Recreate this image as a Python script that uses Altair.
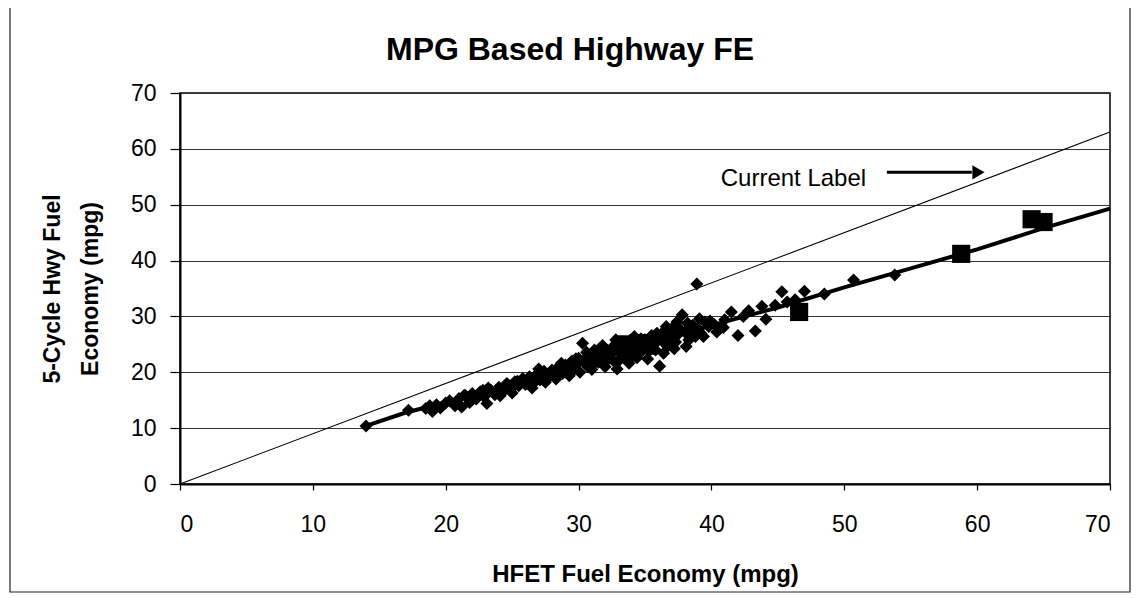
import altair as alt
import pandas as pd

# ---------------- data ----------------
diamond_x = [14.0, 17.2, 18.5, 18.8, 19.0, 19.3, 19.6, 20.0, 20.3, 20.7, 21.0, 21.2, 21.5, 21.8,
             22.0, 22.3, 22.6, 22.9, 23.1, 23.4, 23.2, 23.7, 24.0, 24.3, 24.6, 24.9, 25.2, 25.5,
             25.8, 26.0, 26.3, 26.6, 26.9, 27.1, 27.4, 27.7, 28.0, 28.2, 28.5, 28.8, 29.0, 29.2,
             29.5, 29.7, 29.9, 30.1, 30.3, 30.5, 30.7, 30.9, 31.1, 31.3, 31.5, 31.7, 31.9, 32.1,
             32.3, 32.5, 32.7, 32.9, 33.1, 33.3, 33.5, 33.7, 33.9, 34.1, 34.3, 34.5, 34.7, 34.9,
             35.1, 35.3, 35.5, 35.7, 35.9, 36.1, 36.3, 36.5, 36.7, 36.9, 37.1, 37.3, 37.5, 37.8,
             38.0, 38.3, 38.6, 38.9, 39.2, 39.5, 39.8, 40.2, 40.6, 41.0, 41.5, 42.0, 42.4, 42.8,
             43.3, 43.8, 44.1, 44.8, 45.3, 45.7, 46.3, 47.0, 48.5, 50.7, 53.8,
             30.0, 31.0, 31.6, 32.0, 32.6, 33.0, 33.4, 33.8, 34.0, 34.4, 34.8, 35.2, 35.6, 36.0,
             36.4, 36.8, 37.2, 37.6, 38.1, 38.4, 38.8, 39.1, 39.4, 39.9, 40.4, 40.9, 26.5, 27.5,
             28.3, 29.3, 25.0, 24.1, 27.0, 28.7, 29.6, 30.6, 31.2, 32.2, 33.2, 35.4, 36.6, 37.4,
             30.4, 31.4, 32.4, 33.6, 34.6, 35.8, 36.2, 37.0, 38.2, 39.0, 31.8, 32.8, 34.2, 35.0,
             28.6, 29.8, 26.2, 25.4, 22.8, 21.4]
diamond_y = [10.4, 13.2, 13.5, 14.0, 13.0, 14.2, 13.6, 14.5, 14.9, 14.0, 15.3, 13.8, 15.8, 14.6,
             16.2, 15.2, 16.5, 15.6, 14.4, 16.8, 17.2, 16.0, 17.3, 16.5, 18.0, 17.0, 18.3, 17.6,
             18.9, 17.8, 19.2, 18.0, 19.8, 18.6, 20.2, 19.0, 20.4, 19.5, 21.0, 19.8, 21.3, 20.2,
             22.0, 20.6, 21.6, 20.0, 25.2, 22.4, 21.0, 22.8, 21.4, 23.3, 21.8, 23.0, 22.0, 24.0,
             22.5, 23.6, 21.9, 20.6, 24.4, 22.9, 25.0, 23.4, 24.6, 23.0, 25.6, 24.0, 26.0, 24.4,
             25.2, 23.8, 26.6, 25.0, 27.0, 21.1, 25.6, 27.4, 24.6, 26.4, 28.0, 25.4, 26.8, 30.3,
             27.2, 25.8, 28.4, 35.8, 27.0, 29.0, 28.2, 28.6, 27.8, 29.4, 30.8, 26.6, 30.0, 31.0,
             27.4, 31.8, 29.5, 32.0, 34.4, 32.6, 33.0, 34.5, 34.0, 36.5, 37.4,
             22.5, 20.5, 22.7, 21.0, 24.6, 22.0, 23.8, 21.6, 25.0, 22.6, 25.3, 22.4, 24.2, 26.0,
             23.4, 27.6, 24.2, 27.8, 24.6, 27.6, 26.4, 29.6, 26.4, 29.2, 27.2, 28.0, 17.2, 18.2,
             18.8, 19.4, 16.3, 15.8, 20.6, 21.6, 21.0, 23.6, 24.0, 23.0, 25.4, 26.0, 28.2, 29.0,
             21.8, 22.2, 23.2, 22.2, 23.4, 24.0, 26.8, 25.8, 28.8, 27.8, 24.8, 25.8, 26.4, 25.8,
             20.8, 22.4, 18.6, 18.4, 16.8, 15.9]

square_x = [33.5, 34.5, 46.6, 58.8, 64.1, 65.0]
square_y = [25.0, 25.2, 30.8, 41.2, 47.4, 46.9]

trend_x = [14, 17, 20, 25, 30, 35, 40, 45, 50, 55, 60, 65, 70]
trend_y = [10.4, 12.8, 14.6, 17.8, 21.4, 24.8, 28.4, 31.6, 35.2, 38.6, 42.0, 45.8, 49.3]

label_line_x = [0, 70]
label_line_y = [0, 63]

ticks = [0, 10, 20, 30, 40, 50, 60, 70]

chart_title = "MPG Based Highway FE"
x_title = "HFET Fuel Economy (mpg)"
y_title = ["5-Cycle Hwy Fuel", "Economy (mpg)"]

# annotation anchor (data coordinates)
annot_text = "Current Label"
annot_x, annot_y = 40.7, 54.6
arrow_x = [53.2, 59.6]
arrow_y = [55.8, 55.8]
arrowhead_x = [60.1]
arrowhead_y = [55.8]

FONT = "Liberation Sans"

df_d = pd.DataFrame({"x": diamond_x, "y": diamond_y})
df_s = pd.DataFrame({"x": square_x, "y": square_y})
df_t = pd.DataFrame({"x": trend_x, "y": trend_y})
df_l = pd.DataFrame({"x": label_line_x, "y": label_line_y})
df_a = pd.DataFrame({"x": arrow_x, "y": arrow_y})
df_ah = pd.DataFrame({"x": arrowhead_x, "y": arrowhead_y})
df_txt = pd.DataFrame({"x": [annot_x], "y": [annot_y], "t": [annot_text]})
df_title = pd.DataFrame({"t": [chart_title]})

xscale = alt.Scale(domain=[0, 70], nice=False, zero=False)
yscale = alt.Scale(domain=[0, 70], nice=False, zero=False)

X = alt.X("x:Q", scale=xscale,
          axis=alt.Axis(values=ticks, title=x_title, grid=False))
Y = alt.Y("y:Q", scale=yscale,
          axis=alt.Axis(values=ticks, title=y_title, grid=True))

frame = alt.Chart(pd.DataFrame({"k": [0]})).mark_rect(
    fill=None, stroke="#222", strokeWidth=1.2
).encode(x=alt.value(-170), x2=alt.value(950), y=alt.value(-86), y2=alt.value(499))

title_txt = alt.Chart(df_title).mark_text(
    font=FONT, fontSize=32, fontWeight="bold", color="black",
    align="center", baseline="alphabetic"
).encode(x=alt.value(390), y=alt.value(-33), text="t:N")

label_line = alt.Chart(df_l).mark_line(color="black", strokeWidth=1.1).encode(x=X, y=Y)
trend = alt.Chart(df_t).mark_line(color="black", strokeWidth=4).encode(x=X, y=Y)
diamonds = alt.Chart(df_d).mark_point(shape="diamond", filled=True, color="black",
                                      size=170, opacity=1).encode(x=X, y=Y)
squares = alt.Chart(df_s).mark_point(shape="square", filled=True, color="black",
                                     size=330, opacity=1).encode(x=X, y=Y)
txt = alt.Chart(df_txt).mark_text(align="left", baseline="middle", font=FONT,
                                  fontSize=24, color="black").encode(x=X, y=Y, text="t:N")
arrow = alt.Chart(df_a).mark_line(color="black", strokeWidth=3).encode(x=X, y=Y)
arrowhead = alt.Chart(df_ah).mark_point(shape="triangle-right", filled=True, color="black",
                                        size=200, opacity=1).encode(x=X, y=Y)

chart = alt.layer(frame, title_txt, label_line, trend, diamonds, squares, txt, arrow,
                  arrowhead).properties(
    width=930, height=391,
    autosize=alt.AutoSizeParams(type="none"),
    padding={"left": 172, "top": 85, "right": 22, "bottom": 110},
    background="white",
).configure_view(
    stroke="black", strokeWidth=1.5
).configure_axis(
    labelFont=FONT, labelFontSize=23, labelColor="black",
    titleFont=FONT, titleFontWeight="bold", titleColor="black",
    domainColor="black", domainWidth=2, tickColor="black", tickWidth=1.2,
    gridColor="#333", gridWidth=1, gridOpacity=1,
).configure_axisX(
    tickSize=6, labelPadding=23, titlePadding=26, titleFontSize=24
).configure_axisY(
    tickSize=10, labelPadding=14, titlePadding=28, titleFontSize=23, titleLineHeight=38
)

chart.save("out.html", embed_options={"renderer": "svg", "actions": False})
